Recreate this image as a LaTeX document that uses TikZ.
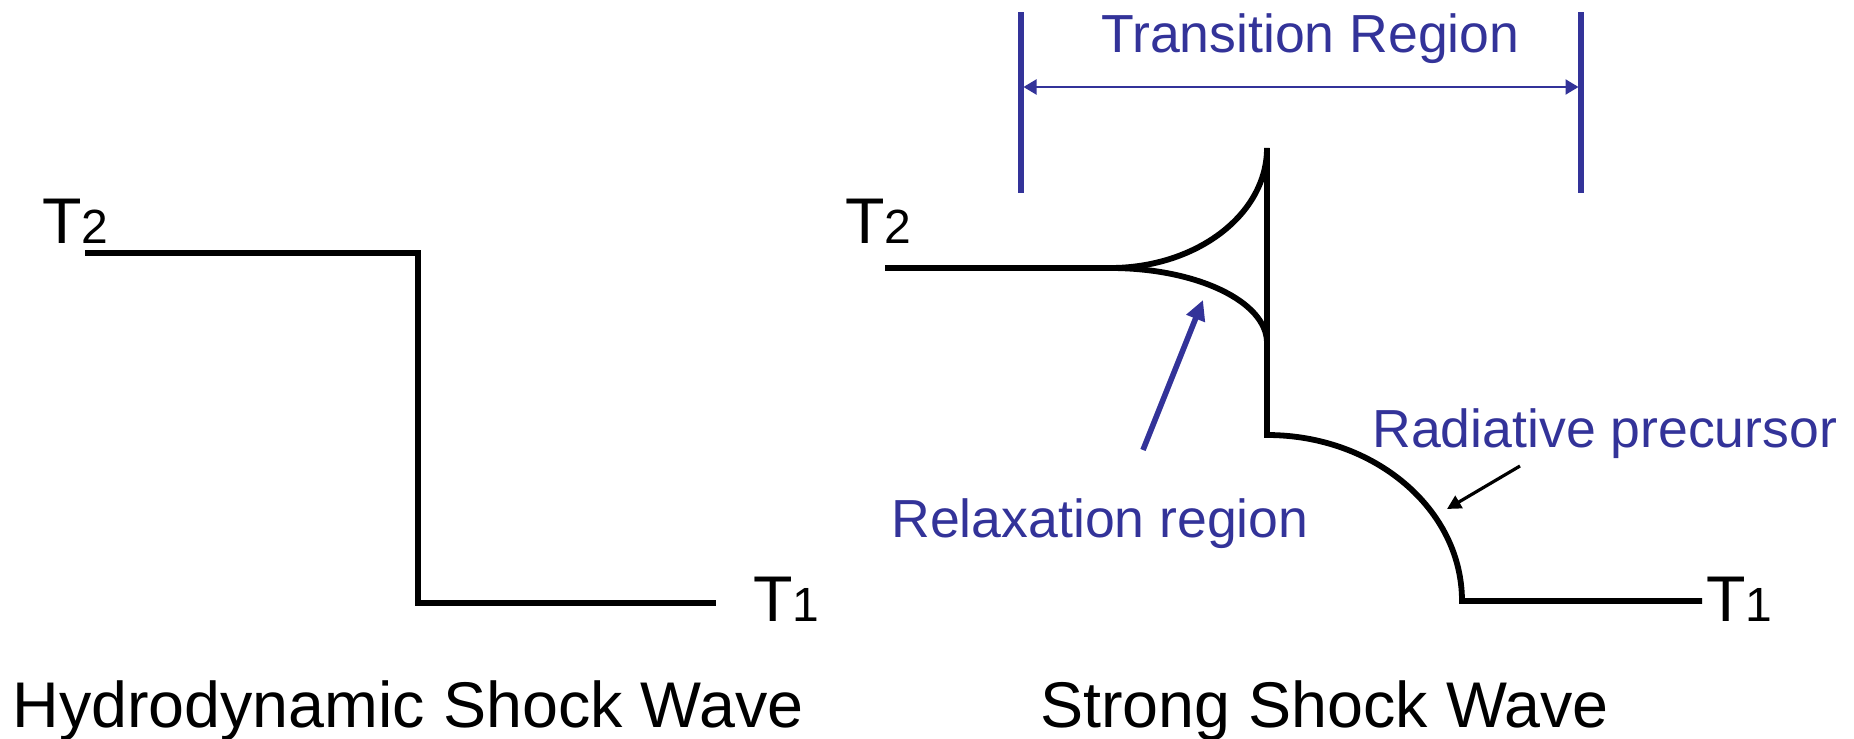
\documentclass[tikz,border=0pt]{standalone}
\usepackage{fontspec}
\setmainfont{Liberation Sans}
\usetikzlibrary{arrows.meta}
\definecolor{lblue}{RGB}{51,51,153}
\newcommand\mysub[1]{{\fontsize{24}{27}\selectfont #1}}
\begin{document}
\begin{tikzpicture}[x=0.5pt,y=-0.5pt,
  wave/.style={line width=2.9pt, black},
  lbl/.style={inner sep=0pt, anchor=base west, font=\fontsize{32.3}{37}\selectfont},
  bluelbl/.style={inner sep=0pt, anchor=base west, text=lblue, font=\fontsize{26.8}{31}\selectfont},
  bar/.style={lblue, line width=2.7pt},
  dimarrow/.style={lblue, line width=1.1pt, {Triangle[length=6.5pt,width=7.5pt]}-{Triangle[length=6.5pt,width=7.5pt]}},
  relaxarrow/.style={lblue, line width=2.8pt, -{Triangle[length=10pt,width=9.5pt]}},
  precarrow/.style={black, line width=1.6pt, -{Triangle[length=7pt,width=7pt]}}
]
\useasboundingbox (0,0) rectangle (1854,739);

% ---------- Left: hydrodynamic shock ----------
\draw[wave] (85,253) -- (418,253) -- (418,603) -- (716,603);
\node[lbl] (T2a) at (42,243) {T\mysub{2}};
\node[lbl] (T1a) at (753,621) {T\mysub{1}};
\node[lbl] (capa) at (12,727) {Hydrodynamic Shock Wave};

% ---------- Right: strong shock ----------
\draw[wave] (885,268) -- (1110,268)
  .. controls (1196.7,268) and (1267,214.3) .. (1267,148)
  -- (1267,435)
  .. controls (1374.7,435) and (1462,509.3) .. (1462,601)
  -- (1702,601);
\draw[wave] (1110,268) .. controls (1196.7,268) and (1267,301.6) .. (1267,343);
\node[lbl] (T2b) at (845,243) {T\mysub{2}};
\node[lbl] (T1b) at (1706,621) {T\mysub{1}};
\node[lbl] (capb) at (1040,727) {Strong Shock Wave};

% ---------- Transition region ----------
\draw[bar] (1021,12) -- (1021,193);
\draw[bar] (1581,12) -- (1581,193);
\coordinate (tl) at (1023.5,87);
\coordinate (tr) at (1578.5,87);
\draw[dimarrow] (tl) -- (tr);
\node[bluelbl] (trans) at (1101,53) {Transition Region};

% ---------- Relaxation region ----------
\node[bluelbl] (relax) at (891,537) {Relaxation region};
\coordinate (ra) at (1143,450);
\coordinate (rb) at (1203,300);
\draw[relaxarrow] (ra) -- (rb);

% ---------- Radiative precursor ----------
\node[bluelbl] (prec) at (1372,447) {Radiative precursor};
\coordinate (pa) at (1520,466);
\coordinate (pb) at (1447,509);
\draw[precarrow] (pa) -- (pb);
\end{tikzpicture}
\end{document}
